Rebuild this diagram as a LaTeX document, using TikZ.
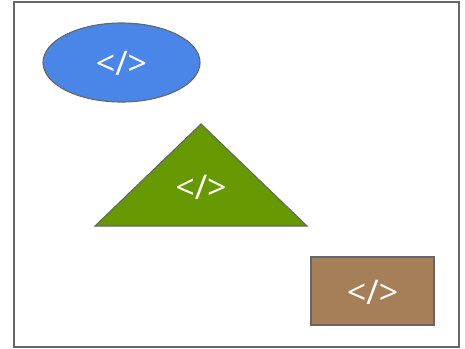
\documentclass[tikz,border=0pt]{standalone}
\usepackage{fontspec}
\setmainfont{Open Sans}
\definecolor{shapeblue}{HTML}{4A86E8}
\definecolor{shapegreen}{HTML}{669900}
\definecolor{shapebrown}{HTML}{A67F59}
\definecolor{edgegray}{HTML}{666666}
\tikzset{
	codelabel/.style={text=white, font=\fontsize{34}{38}\selectfont, inner sep=0pt},
	outline/.style={draw=edgegray, line width=1.1pt}
}
\begin{document}
\begin{tikzpicture}[x=1pt, y=-1pt]
			\useasboundingbox (0,0) rectangle (465,348);
			\draw[outline, line width=1.3pt] (14,2) rectangle (459,347);
			\draw[outline, fill=shapeblue] (121.5,62.5) ellipse [x radius=78.5, y radius=39.5];
			\draw[outline, fill=shapegreen] (201,124) -- (307,226) -- (95,226) -- cycle;
			\draw[outline, fill=shapebrown] (311,257) rectangle (434,325);
			\node[codelabel] (ellipsetext) at (121.5,63) {</>};
			\node[codelabel] (triangletext) at (201,187) {</>};
			\node[codelabel] (boxtext) at (372.5,292) {</>};
		\end{tikzpicture}
\end{document}
